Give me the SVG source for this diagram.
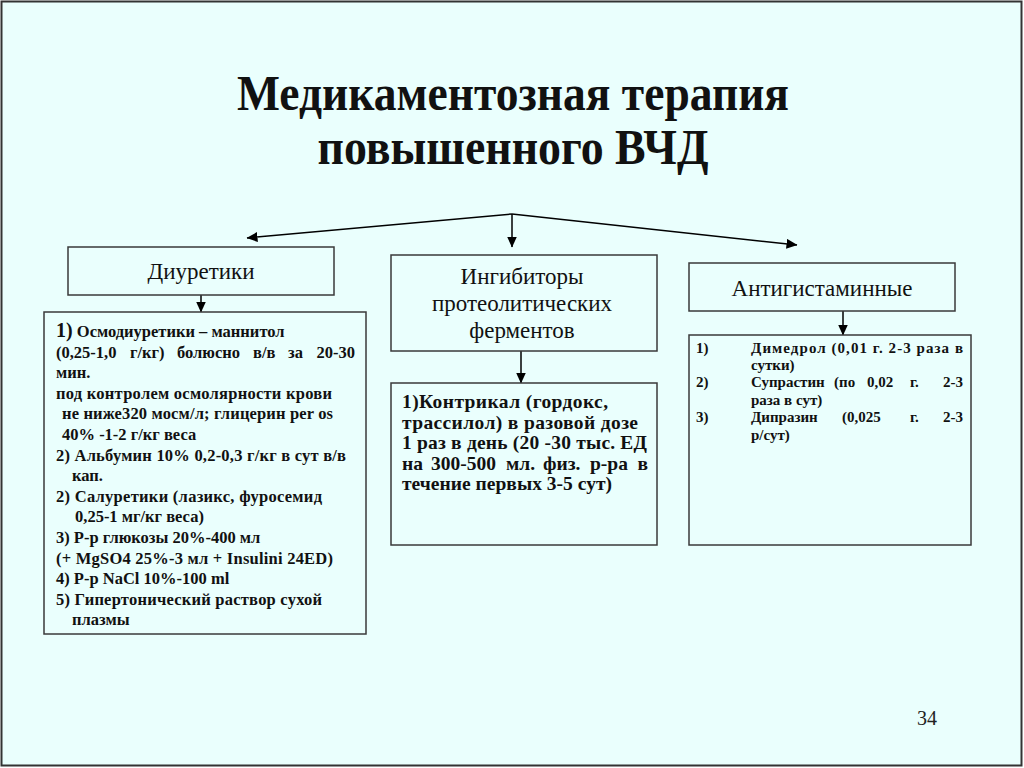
<svg xmlns="http://www.w3.org/2000/svg" width="1024" height="768" viewBox="0 0 1024 768">
<defs>
<marker id="ah" markerUnits="userSpaceOnUse" markerWidth="11" markerHeight="10" viewBox="0 0 11 10" refX="10.5" refY="5" orient="auto">
<path d="M0,0 L11,5 L0,10 z" fill="#000"/>
</marker>
<style>
.box{fill:#eafffd;stroke:#3a3a3a;stroke-width:1.5}
.hdr{font-family:"Liberation Serif","Times New Roman",serif;font-size:23px;fill:#111;text-anchor:middle}
.t{font-family:"Liberation Serif","Times New Roman",serif;font-weight:bold;fill:#111}
.l{font-size:16.5px}
.m{font-size:19.5px}
.r{font-size:15px}
.con{stroke:#000;stroke-width:1.5;fill:none;marker-end:url(#ah)}
</style>
</defs>
<rect x="0" y="0" width="1024" height="768" fill="#ffffff"/>
<rect x="1.5" y="1.5" width="1020" height="764" fill="#eafffd" stroke="#333" stroke-width="2"/>

<g id="title">
<text class="t" x="513" y="110" font-size="50" text-anchor="middle" textLength="552" lengthAdjust="spacingAndGlyphs">Медикаментозная терапия</text>
<text class="t" x="513" y="164" font-size="50" text-anchor="middle" textLength="391" lengthAdjust="spacingAndGlyphs">повышенного ВЧД</text>
</g>

<g id="connectors">
<line class="con" x1="512" y1="214" x2="247" y2="238"/>
<line class="con" x1="512" y1="214" x2="512" y2="247"/>
<line class="con" x1="512" y1="214" x2="797" y2="245"/>
<line class="con" x1="201" y1="295" x2="201" y2="312"/>
<line class="con" x1="521" y1="351" x2="521" y2="383"/>
<line class="con" x1="843" y1="311" x2="843" y2="335"/>
</g>

<g id="diuretics">
<rect class="box" x="68" y="247" width="266" height="48"/>
<text class="hdr" x="201" y="279">Диуретики</text>
</g>

<g id="inhibitors">
<rect class="box" x="391" y="255" width="266" height="96"/>
<text class="hdr" x="522" y="284">Ингибиторы</text>
<text class="hdr" x="522" y="311">протеолитических</text>
<text class="hdr" x="522" y="338">ферментов</text>
</g>

<g id="antihistamines">
<rect class="box" x="689" y="263" width="266" height="48"/>
<text class="hdr" x="822" y="296">Антигистаминные</text>
</g>

<g id="diuretics-list">
<rect class="box" x="44" y="312" width="322" height="322"/>
<text class="t l" x="56" y="337"><tspan font-size="20">1)</tspan> Осмодиуретики – маннитол</text>
<text class="t l" y="357.6"><tspan x="56">(0,25-1,0</tspan><tspan x="130">г/кг)</tspan><tspan x="177">болюсно</tspan><tspan x="253">в/в</tspan><tspan x="288">за</tspan><tspan x="355" text-anchor="end">20-30</tspan></text>
<text class="t l" x="56" y="378.2">мин.</text>
<text class="t l" x="56" y="398.8" textLength="276">под контролем осмолярности крови</text>
<text class="t l" x="62" y="419.4" textLength="271">не ниже320 мосм/л; глицерин per os</text>
<text class="t l" x="62" y="440">40% -1-2 г/кг веса</text>
<text class="t l" x="56" y="460.6" textLength="290">2) Альбумин 10% 0,2-0,3 г/кг в сут в/в</text>
<text class="t l" x="72" y="481.2">кап.</text>
<text class="t l" x="56" y="501.8" textLength="266">2) Салуретики (лазикс, фуросемид</text>
<text class="t l" x="75" y="522.4">0,25-1 мг/кг веса)</text>
<text class="t l" x="56" y="543">3) Р-р глюкозы 20%-400 мл</text>
<text class="t l" x="56" y="563.6" textLength="277">(+ MgSO4 25%-3 мл + Insulini 24ED)</text>
<text class="t l" x="56" y="584.2">4) Р-р NaCl 10%-100 ml</text>
<text class="t l" x="56" y="604.8" textLength="266">5) Гипертонический раствор сухой</text>
<text class="t l" x="72" y="625.4">плазмы</text>
</g>

<g id="inhibitors-list">
<rect class="box" x="391" y="383" width="266" height="162"/>
<text class="t m" x="402" y="408" textLength="206">1)Контрикал (гордокс,</text>
<text class="t m" x="402" y="428.5" textLength="236">трассилол) в разовой дозе</text>
<text class="t m" x="402" y="449" textLength="245">1 раз в день (20 -30 тыс. ЕД</text>
<text class="t m" y="469.5"><tspan x="402">на</tspan><tspan x="431">300-500</tspan><tspan x="506">мл.</tspan><tspan x="543">физ.</tspan><tspan x="590">р-ра</tspan><tspan x="648" text-anchor="end">в</tspan></text>
<text class="t m" x="402" y="490" textLength="210">течение первых 3-5 сут)</text>
</g>

<g id="antihistamines-list">
<rect class="box" x="689" y="335" width="282" height="210"/>
<text class="t r" x="696" y="353">1)</text>
<text class="t r" x="751" y="353" textLength="212">Димедрол (0,01 г. 2-3 раза в</text>
<text class="t r" x="751" y="370">сутки)</text>
<text class="t r" x="696" y="387">2)</text>
<text class="t r" y="387"><tspan x="751">Супрастин</tspan><tspan x="834">(по</tspan><tspan x="867">0,02</tspan><tspan x="910">г.</tspan><tspan x="963" text-anchor="end">2-3</tspan></text>
<text class="t r" x="751" y="405">раза в сут)</text>
<text class="t r" x="696" y="422">3)</text>
<text class="t r" y="422"><tspan x="751">Дипразин</tspan><tspan x="842">(0,025</tspan><tspan x="910">г.</tspan><tspan x="963" text-anchor="end">2-3</tspan></text>
<text class="t r" x="751" y="440">р/сут)</text>
</g>

<g id="page-number">
<text x="917" y="725" font-family="Liberation Serif, Times New Roman, serif" font-size="20" fill="#222">34</text>
</g>
</svg>
